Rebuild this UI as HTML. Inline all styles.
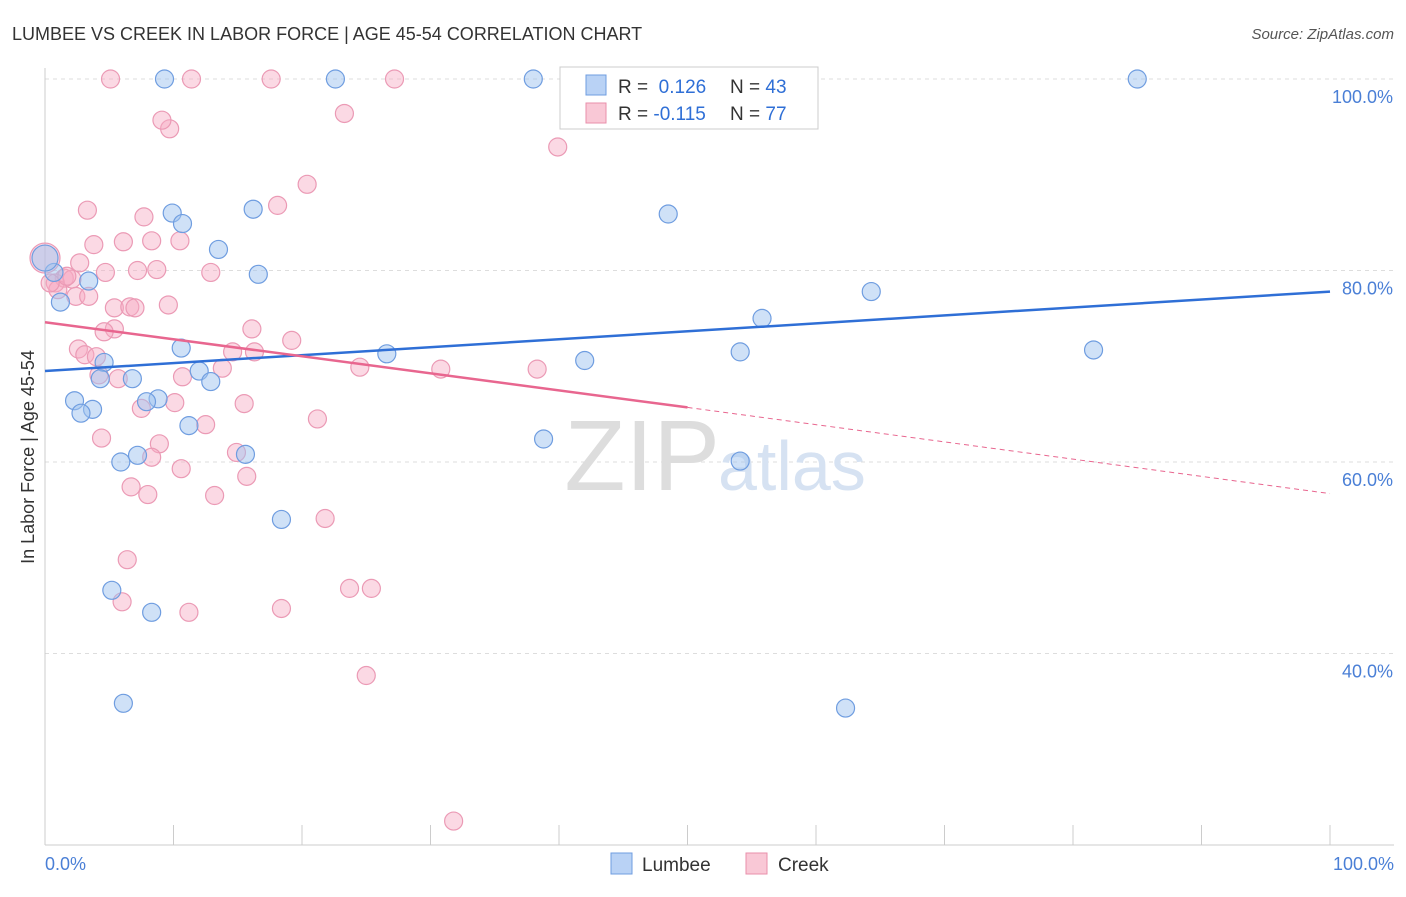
<!DOCTYPE html>
<html><head><meta charset="utf-8"><style>
body{margin:0;background:#fff;font-family:"Liberation Sans",sans-serif}
svg text{font-family:"Liberation Sans",sans-serif}
</style></head><body>
<svg width="1406" height="892">
<text x="12" y="40" font-size="18" fill="#333">LUMBEE VS CREEK IN LABOR FORCE | AGE 45-54 CORRELATION CHART</text>
<text x="1394" y="39" font-size="15" fill="#555" font-style="italic" text-anchor="end">Source: ZipAtlas.com</text>
<g id="grid"></g>
<line x1="45" y1="68" x2="45" y2="845" stroke="#ccc"/>
<line x1="45" y1="845" x2="1394" y2="845" stroke="#ccc"/>
<text x="34" y="457" font-size="18" fill="#333" text-anchor="middle" transform="rotate(-90 34 457)">In Labor Force | Age 45-54</text>
<text x="45" y="870" font-size="18" fill="#4a7fd6">0.0%</text>
<text x="1394" y="870" font-size="18" fill="#4a7fd6" text-anchor="end">100.0%</text>
<text x="720" y="490" font-size="100" fill="#ddd" text-anchor="end" font-family="Liberation Serif">ZIP</text>
<text x="718" y="490" font-size="70" fill="#d6e2f2">atlas</text>
<g id="pts"></g>
<g id="lines"></g>
<g>
<rect x="560" y="67" width="258" height="62" fill="#fff" stroke="#ccc"/>
<rect x="586" y="75" width="20" height="20" fill="#b9d2f5" stroke="#6f9de0"/>
<rect x="586" y="103" width="20" height="20" fill="#f9c8d6" stroke="#e98fab"/>
<text x="618" y="93" font-size="19" fill="#333">R = <tspan fill="#2f6fd6">&#160;0.126</tspan><tspan x="730">N = </tspan><tspan fill="#2f6fd6">43</tspan></text>
<text x="618" y="120" font-size="19" fill="#333">R = <tspan fill="#2f6fd6">-0.115</tspan><tspan x="730">N = </tspan><tspan fill="#2f6fd6">77</tspan></text>
</g>
<g>
<rect x="611" y="853" width="21" height="21" fill="#b9d2f5" stroke="#6f9de0"/>
<text x="642" y="871" font-size="19" fill="#333">Lumbee</text>
<rect x="746" y="853" width="21" height="21" fill="#f9c8d6" stroke="#e98fab"/>
<text x="778" y="871" font-size="19" fill="#333">Creek</text>
</g>
</svg>
<script>
const yTicks=[40,60,80,100];
const yTickLabels=["40.0%","60.0%","80.0%","100.0%"];
const xTicks=[0,10,20,30,40,50,60,70,80,90,100];
const lumbeeX=[9.3,22.6,38,85,9.9,10.7,16.2,48.5,13.5,16.6,0.7,3.4,1.2,64.3,55.8,10.6,26.6,42,54.1,81.6,4.6,6.8,4.3,12,12.9,2.3,3.7,2.8,8.8,7.9,11.2,38.8,5.9,7.2,15.6,54.1,18.4,5.2,8.3,6.1,62.3,0];
const lumbeeY=[100,100,100,100,86,84.9,86.4,85.9,82.2,79.6,79.8,78.9,76.7,77.8,75,71.9,71.3,70.6,71.5,71.7,70.4,68.7,68.7,69.5,68.4,66.4,65.5,65.1,66.6,66.3,63.8,62.4,60,60.7,60.8,60.1,54,46.6,44.3,34.8,34.3,81.3];
const creekX=[5.1,11.4,17.6,27.2,9.7,9.1,23.3,39.9,20.4,3.3,18.1,7.7,3.8,6.1,8.3,10.5,2.7,4.7,7.2,8.7,12.9,1.5,2.1,0.8,1,2.4,3.4,9.6,5.4,6.6,7,5.4,4.6,16.1,19.2,2.6,3.1,4,14.6,16.3,13.8,10.7,4.2,5.7,24.5,30.8,38.3,10.1,7.5,15.5,21.2,12.5,4.4,8.9,14.9,8.3,10.6,15.7,6.7,8,13.2,21.8,6.4,23.7,25.4,6,11.2,18.4,25,31.8,0,0.4,1.7];
const creekY=[100,100,100,100,94.8,95.7,96.4,92.9,89,86.3,86.8,85.6,82.7,83,83.1,83.1,80.8,79.8,80,80.1,79.8,79.2,79.1,78.7,78,77.3,77.3,76.4,76.1,76.2,76.1,73.9,73.6,73.9,72.7,71.8,71.2,71,71.5,71.5,69.8,68.9,69.1,68.7,69.9,69.7,69.7,66.2,65.6,66.1,64.5,63.9,62.5,61.9,61,60.5,59.3,58.5,57.4,56.6,56.5,54.1,49.8,46.8,46.8,45.4,44.3,44.7,37.7,22.5,81.3,78.7,79.4];
const fitL=[69.5,77.8];const fitC=[74.6,65.7,56.7];
const NS="http://www.w3.org/2000/svg";
const sx=v=>45+v*12.85, sy=v=>845-(v-20)*9.575;
function mk(t,a,p){const e=document.createElementNS(NS,t);for(const k in a)e.setAttribute(k,a[k]);p.appendChild(e);return e;}
const grid=document.getElementById('grid');
yTicks.forEach((v,i)=>{
 const l=mk('line',{x1:45,x2:1394,y1:sy(v),y2:sy(v),stroke:'#ddd','stroke-dasharray':'4,4'},grid);
 
 
 const t=mk('text',{x:1393,y:sy(v)+24,'font-size':18,fill:'#4a7fd6','text-anchor':'end'},grid);
 t.textContent=yTickLabels[i];
 
 
});
xTicks.forEach(v=>{
 const l=mk('line',{x1:sx(v),x2:sx(v),y1:825,y2:845,stroke:'#ccc'},grid);
 
 
});
const pts=document.getElementById('pts');
creekX.forEach((x,i)=>{
 const r=i==70?15:9;
 const c=mk('circle',{cx:sx(x),cy:sy(creekY[i]),r:r,fill:'rgba(246,170,195,0.45)',stroke:'#eb9ab5','stroke-width':1.2},pts);
 
 
});
lumbeeX.forEach((x,i)=>{
 const r=i==41?13:9;
 const c=mk('circle',{cx:sx(x),cy:sy(lumbeeY[i]),r:r,fill:'rgba(160,195,240,0.5)',stroke:'#6f9de0','stroke-width':1.2},pts);
 
 
});
const lines=document.getElementById('lines');
let a=mk('line',{x1:sx(0),y1:sy(fitL[0]),x2:sx(100),y2:sy(fitL[1]),stroke:'#2f6fd6','stroke-width':2.5},lines);


let b=mk('line',{x1:sx(0),y1:sy(fitC[0]),x2:sx(50),y2:sy(fitC[1]),stroke:'#e8668f','stroke-width':2.5},lines);


let d=mk('line',{x1:sx(50),y1:sy(fitC[1]),x2:sx(100),y2:sy(fitC[2]),stroke:'#e8668f','stroke-width':1,'stroke-dasharray':'5,4'},lines);


</script>
</body></html>
